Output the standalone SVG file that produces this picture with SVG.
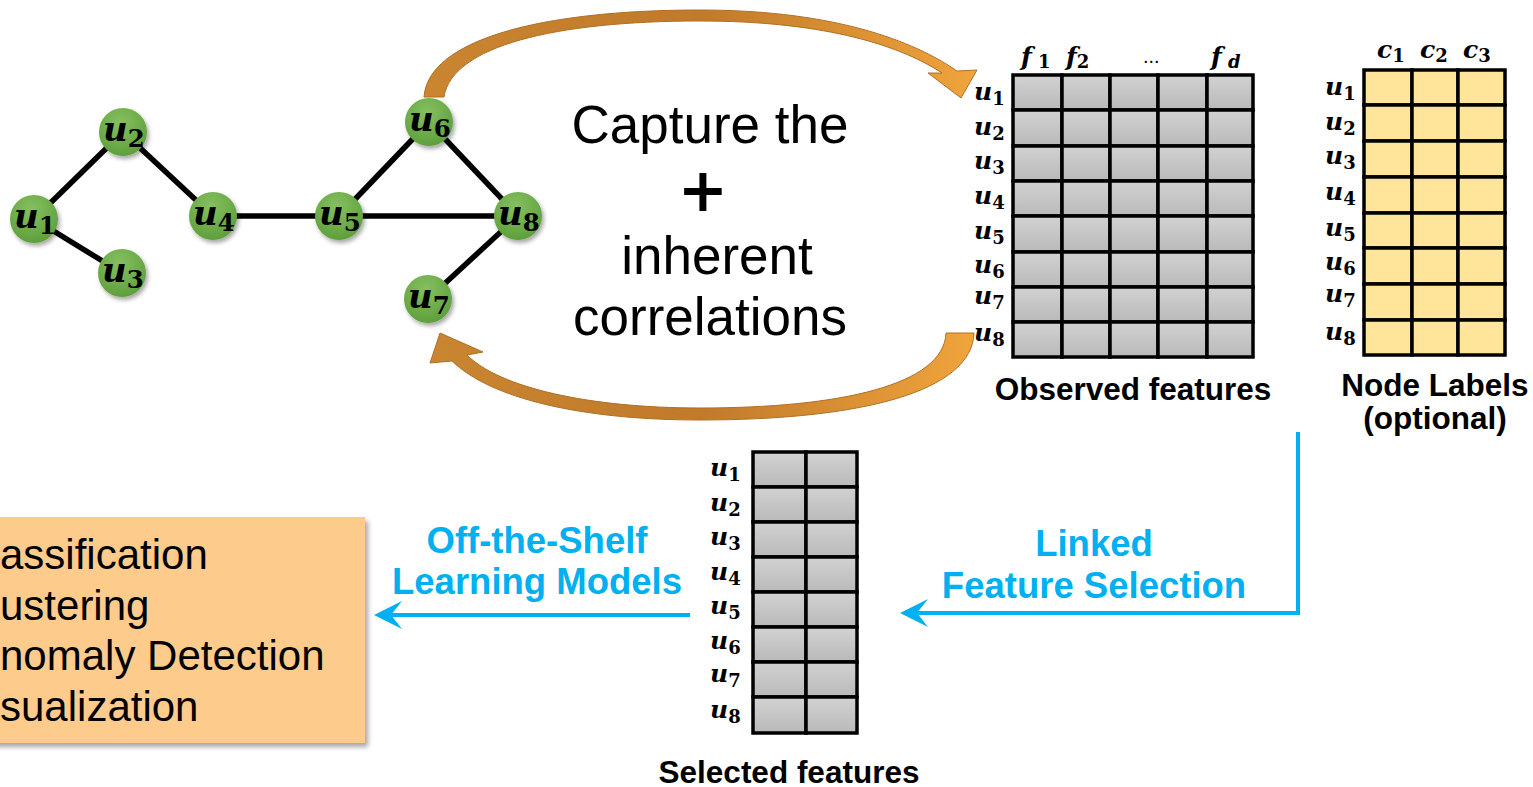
<svg xmlns="http://www.w3.org/2000/svg" width="1533" height="787" viewBox="0 0 1533 787">
<style>
.edge{stroke:#000;stroke-width:5.5;stroke-linecap:butt}
.node{fill:url(#gn);filter:url(#sh)}
.nl{font-family:"DejaVu Serif",serif;font-weight:bold;font-style:italic;font-size:34px;fill:#000}
.ml{font-family:"DejaVu Serif",serif;font-weight:bold;font-style:italic;font-size:25px;fill:#000}
.sub{font-style:normal;font-size:0.72em}
.gc{fill:url(#gg);stroke:#000;stroke-width:3.5}
.yc{fill:#ffe599;stroke:#000;stroke-width:3.5}
.cap{font-family:"Liberation Sans",Arial,sans-serif;font-size:53px;fill:#000;text-anchor:middle}
.plus{font-family:"DejaVu Sans",sans-serif;font-weight:bold;font-size:60px;fill:#000;text-anchor:middle}
.bl{font-family:"Liberation Sans",Arial,sans-serif;font-weight:bold;font-size:36.5px;fill:#00b0f0;text-anchor:middle}
.bk{font-family:"Liberation Sans",Arial,sans-serif;font-weight:bold;font-size:31.5px;fill:#000;text-anchor:middle}
.task{font-family:"Liberation Sans",Arial,sans-serif;font-size:42px;fill:#000}
.blue{stroke:#00b0f0;stroke-width:4;fill:none}
.orange{fill:url(#go);stroke:#b06f25;stroke-width:1}
</style>
<defs>
<radialGradient id="gn" cx="0.45" cy="0.3" r="0.75">
<stop offset="0" stop-color="#86c061"/>
<stop offset="1" stop-color="#5b9d38"/>
</radialGradient>
<linearGradient id="gg" x1="0" y1="0" x2="0" y2="1">
<stop offset="0" stop-color="#d2d2d2"/>
<stop offset="1" stop-color="#b9b9b9"/>
</linearGradient>
<linearGradient id="go" x1="0" y1="0" x2="1" y2="0">
<stop offset="0" stop-color="#c98530"/>
<stop offset="0.5" stop-color="#c07a2a"/>
<stop offset="1" stop-color="#f0a43c"/>
</linearGradient>
<filter id="sh" x="-30%" y="-30%" width="170%" height="170%">
<feDropShadow dx="2" dy="3" stdDeviation="2" flood-color="#000" flood-opacity="0.35"/>
</filter>
<filter id="bsh" x="-5%" y="-5%" width="110%" height="115%">
<feDropShadow dx="3" dy="4" stdDeviation="2.5" flood-color="#000" flood-opacity="0.35"/>
</filter>
<marker id="ba" markerUnits="userSpaceOnUse" markerWidth="40" markerHeight="40" viewBox="-32 -20 40 40" refX="-10" refY="0" orient="auto">
<path d="M0,0 L-28,-14 L-17,0 L-28,14 Z" fill="#00b0f0"/>
</marker>
</defs>

<g id="connectors">
<line class="edge" x1="34" y1="219" x2="123" y2="132"/>
<line class="edge" x1="34" y1="219" x2="122" y2="273"/>
<line class="edge" x1="123" y1="132" x2="213" y2="216"/>
<line class="edge" x1="213" y1="216" x2="339" y2="216"/>
<line class="edge" x1="339" y1="216" x2="429" y2="122"/>
<line class="edge" x1="339" y1="216" x2="518" y2="216"/>
<line class="edge" x1="429" y1="122" x2="518" y2="216"/>
<line class="edge" x1="518" y1="216" x2="428" y2="299"/>
<path class="orange" d="M424,97 C428,40 540,10 700,10 C820,10 905,35 957,71 L977,70 L961,98 L928,73 L942,73 C895,42 815,21 700,21 C555,21 452,46 444,97 Z"/>
<path class="orange" d="M946,333 L974,333 C972,392 860,420 700,420 C580,420 490,398 452,361 L430,363 L440,333 L483,352 L467,355 C500,388 590,408 700,408 C840,408 944,385 946,333 Z"/>
<polyline class="blue" points="1298,432 1298,613 910,613" marker-end="url(#ba)"/>
<line class="blue" x1="690" y1="615" x2="384" y2="615" marker-end="url(#ba)"/>
</g>

<g id="u1"><circle class="node" cx="34" cy="219" r="24"/><text class="nl" x="14" y="228">u<tspan class="sub" dy="6">1</tspan></text></g>
<g id="u2"><circle class="node" cx="123" cy="132" r="24"/><text class="nl" x="103" y="141">u<tspan class="sub" dy="6">2</tspan></text></g>
<g id="u3"><circle class="node" cx="122" cy="273" r="24"/><text class="nl" x="102" y="282">u<tspan class="sub" dy="6">3</tspan></text></g>
<g id="u4"><circle class="node" cx="213" cy="216" r="24"/><text class="nl" x="193" y="225">u<tspan class="sub" dy="6">4</tspan></text></g>
<g id="u5"><circle class="node" cx="339" cy="216" r="24"/><text class="nl" x="319" y="225">u<tspan class="sub" dy="6">5</tspan></text></g>
<g id="u6"><circle class="node" cx="429" cy="122" r="24"/><text class="nl" x="409" y="131">u<tspan class="sub" dy="6">6</tspan></text></g>
<g id="u7"><circle class="node" cx="428" cy="299" r="24"/><text class="nl" x="408" y="308">u<tspan class="sub" dy="6">7</tspan></text></g>
<g id="u8"><circle class="node" cx="518" cy="216" r="24"/><text class="nl" x="498" y="225">u<tspan class="sub" dy="6">8</tspan></text></g>

<g id="caption">
<text class="cap" x="710" y="143">Capture the</text>
<text class="plus" x="703" y="211">+</text>
<text class="cap" x="717" y="274">inherent</text>
<text class="cap" x="710" y="335">correlations</text>
</g>

<g id="observed">
<g>
<rect class="gc" x="1013" y="75" width="49" height="35"/><rect class="gc" x="1062" y="75" width="48" height="35"/><rect class="gc" x="1110" y="75" width="48" height="35"/><rect class="gc" x="1158" y="75" width="49" height="35"/><rect class="gc" x="1207" y="75" width="46" height="35"/>
<rect class="gc" x="1013" y="110" width="49" height="36"/><rect class="gc" x="1062" y="110" width="48" height="36"/><rect class="gc" x="1110" y="110" width="48" height="36"/><rect class="gc" x="1158" y="110" width="49" height="36"/><rect class="gc" x="1207" y="110" width="46" height="36"/>
<rect class="gc" x="1013" y="146" width="49" height="35"/><rect class="gc" x="1062" y="146" width="48" height="35"/><rect class="gc" x="1110" y="146" width="48" height="35"/><rect class="gc" x="1158" y="146" width="49" height="35"/><rect class="gc" x="1207" y="146" width="46" height="35"/>
<rect class="gc" x="1013" y="181" width="49" height="35"/><rect class="gc" x="1062" y="181" width="48" height="35"/><rect class="gc" x="1110" y="181" width="48" height="35"/><rect class="gc" x="1158" y="181" width="49" height="35"/><rect class="gc" x="1207" y="181" width="46" height="35"/>
<rect class="gc" x="1013" y="216" width="49" height="36"/><rect class="gc" x="1062" y="216" width="48" height="36"/><rect class="gc" x="1110" y="216" width="48" height="36"/><rect class="gc" x="1158" y="216" width="49" height="36"/><rect class="gc" x="1207" y="216" width="46" height="36"/>
<rect class="gc" x="1013" y="252" width="49" height="35"/><rect class="gc" x="1062" y="252" width="48" height="35"/><rect class="gc" x="1110" y="252" width="48" height="35"/><rect class="gc" x="1158" y="252" width="49" height="35"/><rect class="gc" x="1207" y="252" width="46" height="35"/>
<rect class="gc" x="1013" y="287" width="49" height="35"/><rect class="gc" x="1062" y="287" width="48" height="35"/><rect class="gc" x="1110" y="287" width="48" height="35"/><rect class="gc" x="1158" y="287" width="49" height="35"/><rect class="gc" x="1207" y="287" width="46" height="35"/>
<rect class="gc" x="1013" y="322" width="49" height="35"/><rect class="gc" x="1062" y="322" width="48" height="35"/><rect class="gc" x="1110" y="322" width="48" height="35"/><rect class="gc" x="1158" y="322" width="49" height="35"/><rect class="gc" x="1207" y="322" width="46" height="35"/>
</g>
<text class="ml" x="1021" y="65">f<tspan class="sub" dy="3"> 1</tspan></text>
<text class="ml" x="1066" y="65">f<tspan class="sub" dy="3">2</tspan></text>
<text x="1143" y="63" style="font-family:'Liberation Sans',sans-serif;font-size:20px">...</text>
<text class="ml" x="1211" y="65">f<tspan class="sub" dy="3" style="font-style:italic"> d</tspan></text>
<text class="ml" x="974" y="100">u<tspan class="sub" dy="5">1</tspan></text>
<text class="ml" x="974" y="135">u<tspan class="sub" dy="5">2</tspan></text>
<text class="ml" x="974" y="169">u<tspan class="sub" dy="5">3</tspan></text>
<text class="ml" x="974" y="204">u<tspan class="sub" dy="5">4</tspan></text>
<text class="ml" x="974" y="239">u<tspan class="sub" dy="5">5</tspan></text>
<text class="ml" x="974" y="273">u<tspan class="sub" dy="5">6</tspan></text>
<text class="ml" x="974" y="304">u<tspan class="sub" dy="5">7</tspan></text>
<text class="ml" x="974" y="341">u<tspan class="sub" dy="5">8</tspan></text>
<text class="bk" x="1133" y="400">Observed features</text>
</g>

<g id="labels">
<g>
<rect class="yc" x="1364" y="70" width="48" height="35"/><rect class="yc" x="1412" y="70" width="46" height="35"/><rect class="yc" x="1458" y="70" width="47" height="35"/>
<rect class="yc" x="1364" y="105" width="48" height="36"/><rect class="yc" x="1412" y="105" width="46" height="36"/><rect class="yc" x="1458" y="105" width="47" height="36"/>
<rect class="yc" x="1364" y="141" width="48" height="36"/><rect class="yc" x="1412" y="141" width="46" height="36"/><rect class="yc" x="1458" y="141" width="47" height="36"/>
<rect class="yc" x="1364" y="177" width="48" height="36"/><rect class="yc" x="1412" y="177" width="46" height="36"/><rect class="yc" x="1458" y="177" width="47" height="36"/>
<rect class="yc" x="1364" y="213" width="48" height="35"/><rect class="yc" x="1412" y="213" width="46" height="35"/><rect class="yc" x="1458" y="213" width="47" height="35"/>
<rect class="yc" x="1364" y="248" width="48" height="36"/><rect class="yc" x="1412" y="248" width="46" height="36"/><rect class="yc" x="1458" y="248" width="47" height="36"/>
<rect class="yc" x="1364" y="284" width="48" height="36"/><rect class="yc" x="1412" y="284" width="46" height="36"/><rect class="yc" x="1458" y="284" width="47" height="36"/>
<rect class="yc" x="1364" y="320" width="48" height="35"/><rect class="yc" x="1412" y="320" width="46" height="35"/><rect class="yc" x="1458" y="320" width="47" height="35"/>
</g>
<text class="ml" x="1377" y="58">c<tspan class="sub" dy="4">1</tspan></text>
<text class="ml" x="1420" y="58">c<tspan class="sub" dy="4">2</tspan></text>
<text class="ml" x="1463" y="58">c<tspan class="sub" dy="4">3</tspan></text>
<text class="ml" x="1325" y="95">u<tspan class="sub" dy="5">1</tspan></text>
<text class="ml" x="1325" y="130">u<tspan class="sub" dy="5">2</tspan></text>
<text class="ml" x="1325" y="164">u<tspan class="sub" dy="5">3</tspan></text>
<text class="ml" x="1325" y="200">u<tspan class="sub" dy="5">4</tspan></text>
<text class="ml" x="1325" y="236">u<tspan class="sub" dy="5">5</tspan></text>
<text class="ml" x="1325" y="270">u<tspan class="sub" dy="5">6</tspan></text>
<text class="ml" x="1325" y="302">u<tspan class="sub" dy="5">7</tspan></text>
<text class="ml" x="1325" y="340">u<tspan class="sub" dy="5">8</tspan></text>
<text class="bk" x="1435" y="396">Node Labels</text>
<text class="bk" x="1435" y="429">(optional)</text>
</g>

<g id="selected">
<g>
<rect class="gc" x="753" y="452" width="53" height="35"/><rect class="gc" x="806" y="452" width="51" height="35"/>
<rect class="gc" x="753" y="487" width="53" height="35"/><rect class="gc" x="806" y="487" width="51" height="35"/>
<rect class="gc" x="753" y="522" width="53" height="35"/><rect class="gc" x="806" y="522" width="51" height="35"/>
<rect class="gc" x="753" y="557" width="53" height="35"/><rect class="gc" x="806" y="557" width="51" height="35"/>
<rect class="gc" x="753" y="592" width="53" height="35"/><rect class="gc" x="806" y="592" width="51" height="35"/>
<rect class="gc" x="753" y="627" width="53" height="35"/><rect class="gc" x="806" y="627" width="51" height="35"/>
<rect class="gc" x="753" y="662" width="53" height="35"/><rect class="gc" x="806" y="662" width="51" height="35"/>
<rect class="gc" x="753" y="697" width="53" height="36"/><rect class="gc" x="806" y="697" width="51" height="36"/>
</g>
<text class="ml" x="710" y="476">u<tspan class="sub" dy="5">1</tspan></text>
<text class="ml" x="710" y="511">u<tspan class="sub" dy="5">2</tspan></text>
<text class="ml" x="710" y="545">u<tspan class="sub" dy="5">3</tspan></text>
<text class="ml" x="710" y="580">u<tspan class="sub" dy="5">4</tspan></text>
<text class="ml" x="710" y="614">u<tspan class="sub" dy="5">5</tspan></text>
<text class="ml" x="710" y="649">u<tspan class="sub" dy="5">6</tspan></text>
<text class="ml" x="710" y="682">u<tspan class="sub" dy="5">7</tspan></text>
<text class="ml" x="710" y="718">u<tspan class="sub" dy="5">8</tspan></text>
<text class="bk" x="789" y="783">Selected features</text>
</g>

<g id="tasks">
<rect x="-10" y="517" width="375" height="226" fill="#fdcb8c" filter="url(#bsh)"/>
<text class="task" x="0" y="569">assification</text>
<text class="task" x="0" y="620">ustering</text>
<text class="task" x="0" y="670">nomaly Detection</text>
<text class="task" x="0" y="721">sualization</text>
</g>

<g id="connector-labels">
<text class="bl" x="537" y="553">Off-the-Shelf</text>
<text class="bl" x="537" y="594">Learning Models</text>
<text class="bl" x="1094" y="556">Linked</text>
<text class="bl" x="1094" y="598">Feature Selection</text>
</g>
</svg>
